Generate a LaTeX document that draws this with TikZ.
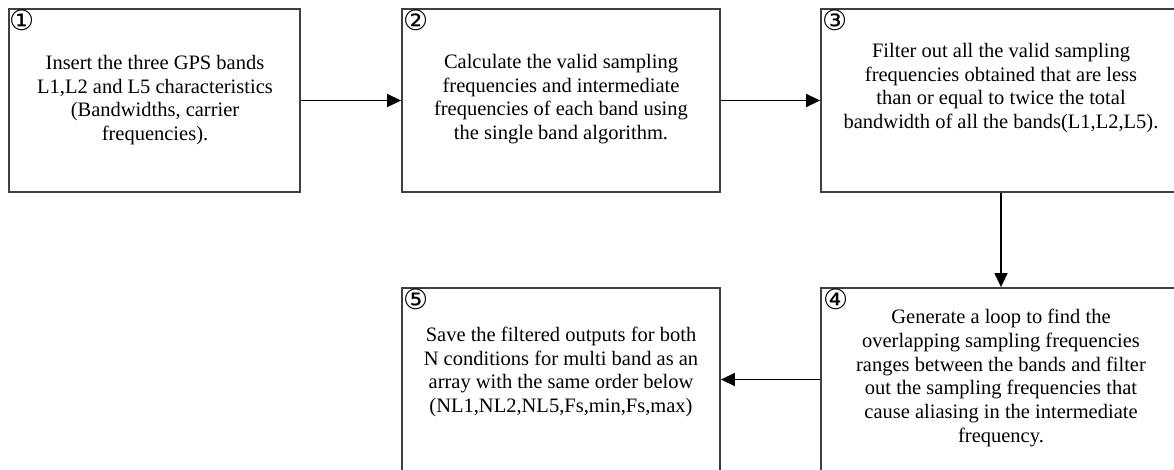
\documentclass[tikz,border=0pt]{standalone}
\usepackage{fontspec}
\setmainfont{Liberation Serif}
\newfontfamily\circfont{DejaVu Sans}
\usetikzlibrary{arrows.meta}
\begin{document}
\begin{tikzpicture}[x=1pt,y=-1pt,
  box/.style={draw=black!75,line width=1.8pt,minimum width=#1,minimum height=183pt,inner sep=0pt},
  txt/.style={align=center,font=\fontsize{20.5}{23.8}\selectfont,text=black,inner sep=0pt},
  num/.style={anchor=north west,font=\circfont\fontsize{28}{28}\selectfont,inner sep=0pt},
  arr/.style={line width=1.5pt,-{Triangle[length=14pt,width=13pt]}}]
\useasboundingbox (0,0) rectangle (1174,469);
\fill[white] (0,0) rectangle (1174,469);
\node[box=291pt] (b1) at (154.5,100.5) {};
\node[box=318pt] (b2) at (561,100.5) {};
\node[box=360pt] (b3) at (1001,100.5) {};
\node[box=360pt] (b4) at (1001,379.5) {};
\node[box=318pt] (b5) at (561,379.5) {};
\node[num] (n1) at (9,10) {①};
\node[num] (n2) at (403,10) {②};
\node[num] (n3) at (822,10) {③};
\node[num] (n4) at (823,289) {④};
\node[num] (n5) at (403,289) {⑤};
\node[txt] (t1) at (155,100) {Insert the three GPS bands\\L1,L2 and L5 characteristics\\(Bandwidths, carrier\\frequencies).};
\node[txt] (t2) at (561,99) {Calculate the valid sampling\\frequencies and intermediate\\frequencies of each band using\\the single band algorithm.};
\node[txt] (t3) at (1001,88) {Filter out all the valid sampling\\frequencies obtained that are less\\than or equal to twice the total\\bandwidth of all the bands(L1,L2,L5).};
\node[txt] (t4) at (1001,378) {Generate a loop to find the\\overlapping sampling frequencies\\ranges between the bands and filter\\out the sampling frequencies that\\cause aliasing in the intermediate\\frequency.};
\node[txt] (t5) at (561,372) {Save the filtered outputs for both\\N conditions for multi band as an\\array with the same order below\\(NL1,NL2,NL5,Fs,min,Fs,max)};
\draw[arr] (b1.east) -- (b2.west);
\draw[arr] (b2.east) -- (b3.west);
\draw[arr] (b3.south) -- (b4.north);
\draw[arr] (b4.west) -- (b5.east);
\end{tikzpicture}
\end{document}
